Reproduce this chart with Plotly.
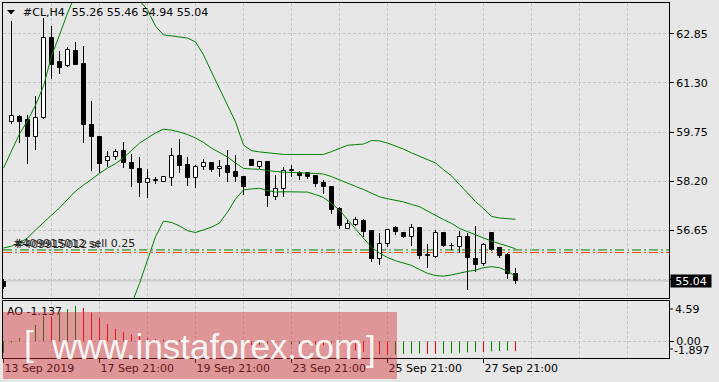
import plotly.graph_objects as go

# ---------------- data ----------------
symbol = "#CL,H4"
date_labels = ["13 Sep 2019", "17 Sep 21:00", "19 Sep 21:00", "23 Sep 21:00", "25 Sep 21:00", "27 Sep 21:00"]
date_label_bars = [0, 12, 24, 36, 48, 60]
price_ticks = [55.10, 56.65, 58.20, 59.75, 61.30, 62.85]

opens = [55.02, 60.06, 60.22, 60.12, 59.58, 60.19, 62.72, 61.96, 61.83, 62.32,
         61.90, 59.98, 59.58, 58.82, 58.95, 59.15, 58.76, 58.57, 58.15, 58.20,
         58.18, 58.28, 58.99, 58.71, 58.28, 58.63, 58.76, 58.57, 58.67, 58.49,
         58.34, 58.86, 58.65, 58.79, 57.70, 57.95, 58.52, 58.44, 58.44, 58.36,
         58.15, 58.02, 57.31, 56.69, 56.82, 56.94, 56.63, 55.72, 56.20, 56.71,
         56.55, 56.44, 56.72, 55.83, 55.81, 56.55, 56.14, 56.12, 56.42, 55.72,
         55.56, 56.55, 56.07, 55.86, 55.26]
highs = [55.10, 63.25, 60.30, 60.30, 60.88, 63.36, 63.09, 62.30, 62.43, 62.59,
         62.46, 60.72, 59.60, 59.14, 59.20, 59.42, 59.05, 58.95, 58.57, 58.34,
         58.36, 59.25, 59.53, 58.95, 58.71, 58.89, 58.81, 58.86, 59.18, 59.02,
         58.36, 58.88, 58.80, 58.80, 58.39, 58.63, 58.71, 58.52, 58.50, 58.38,
         58.23, 58.03, 57.39, 56.97, 57.06, 56.99, 56.66, 56.55, 56.68, 56.77,
         56.58, 56.84, 56.74, 56.20, 56.66, 56.56, 56.23, 56.62, 56.55, 56.78,
         56.25, 56.57, 56.12, 55.93, 55.46]
lows = [54.80, 60.00, 59.40, 58.74, 59.19, 60.15, 61.44, 61.59, 61.80, 61.86,
        59.40, 58.51, 58.45, 58.63, 58.86, 58.60, 58.02, 57.68, 57.67, 58.10,
        58.17, 58.04, 58.44, 58.04, 57.99, 58.55, 58.47, 58.34, 58.18, 58.18,
        57.76, 58.66, 58.58, 57.39, 57.60, 57.70, 58.34, 58.23, 58.27, 58.00,
        57.79, 57.16, 56.68, 56.67, 56.78, 56.42, 55.65, 55.54, 56.10, 56.50,
        56.40, 56.14, 55.72, 55.44, 55.78, 56.10, 56.02, 55.93, 54.75, 55.33,
        55.52, 55.98, 55.75, 55.10, 54.94]
closes = [54.85, 60.25, 60.08, 59.58, 60.19, 62.72, 61.88, 61.77, 62.35, 61.88,
          59.98, 59.58, 58.75, 58.96, 59.11, 58.76, 58.57, 58.15, 58.25, 58.22,
          58.32, 58.99, 58.68, 58.30, 58.63, 58.76, 58.55, 58.65, 58.46, 58.34,
          58.02, 58.68, 58.79, 57.73, 57.94, 58.53, 58.54, 58.37, 58.34, 58.10,
          58.00, 57.28, 56.79, 56.83, 56.97, 56.60, 55.72, 56.20, 56.65, 56.58,
          56.44, 56.70, 55.83, 55.86, 56.55, 56.14, 56.16, 56.42, 55.75, 55.54,
          56.18, 56.02, 55.83, 55.26, 55.04]

bb_upper = [58.61, 59.15, 59.69, 60.10, 60.60, 61.20, 62.15, 62.82, 63.51, 64.10,
            64.40, 64.60, 64.75, 64.80, 64.70, 64.50, 64.20, 63.90, 63.61, 63.10,
            62.82, 62.79, 62.76, 62.72, 62.60, 62.19, 61.65, 61.11, 60.57, 60.07,
            59.34, 59.16, 59.12, 59.09, 59.05, 59.04, 59.04, 59.04, 59.04, 59.04,
            59.04, 59.13, 59.24, 59.33, 59.35, 59.37, 59.48, 59.47, 59.40, 59.31,
            59.21, 59.09, 58.99, 58.88, 58.77, 58.56, 58.36, 58.09, 57.82, 57.55,
            57.33, 57.08, 57.03, 57.01, 56.99]
bb_middle = [56.08, 56.14, 56.24, 56.40, 56.65, 56.90, 57.12, 57.35, 57.63, 57.88,
             58.07, 58.26, 58.44, 58.61, 58.75, 58.93, 59.18, 59.40, 59.56, 59.72,
             59.84, 59.81, 59.75, 59.67, 59.56, 59.42, 59.24, 59.09, 58.96, 58.77,
             58.60, 58.58, 58.57, 58.53, 58.50, 58.48, 58.47, 58.45, 58.45, 58.44,
             58.42, 58.34, 58.23, 58.12, 58.03, 57.93, 57.82, 57.70, 57.64, 57.59,
             57.54, 57.46, 57.39, 57.25, 57.11, 56.98, 56.86, 56.70, 56.60, 56.51,
             56.40, 56.30, 56.23, 56.14, 56.06]
bb_lower = [53.55, 53.13, 52.79, 52.70, 52.70, 52.60, 52.09, 51.88, 51.75, 51.66,
            51.74, 51.92, 52.13, 52.42, 52.80, 53.36, 54.30, 54.96, 55.73, 56.44,
            56.93, 56.89, 56.78, 56.63, 56.57, 56.65, 56.74, 56.87, 57.22, 57.63,
            57.92, 57.95, 57.97, 57.90, 57.85, 57.86, 57.86, 57.86, 57.85, 57.77,
            57.68, 57.49, 57.28, 56.98, 56.68, 56.40, 56.10, 55.92, 55.78, 55.68,
            55.61, 55.53, 55.40, 55.28, 55.21, 55.19, 55.23, 55.29, 55.34, 55.38,
            55.46, 55.49, 55.46, 55.35, 55.19]

ao_values = [-1.30, -0.15, 0.37, 0.97, 1.86, 2.91, 2.80, 3.25, 3.66, 4.03,
             3.81, 3.28, 2.65, 1.98, 1.42, 1.04, 0.75, 0.56, 0.40, 0.28,
             0.20, 0.18, 0.15, 0.10, 0.05, 0.02, -0.05, -0.12, -0.20, -0.30,
             -0.42, -0.45, -0.40, -0.50, -0.48, -0.40, -0.35, -0.30, -0.28, -0.35,
             -0.45, -0.60, -0.80, -0.95, -1.05, -1.20, -1.40, -1.50, -1.55, -1.50,
             -1.45, -1.40, -1.38, -1.42, -1.44, -1.40, -1.35, -1.30, -1.25, -1.20,
             -1.22, -1.15, -1.10, -1.05, -1.137]
ao_max = 4.59
ao_min = -1.897

order_price = 56.02
sl_price = 55.94
order_label = "#409915012 sell 0.25"
sl_label = "#409915012 sl"
watermark = "www.instaforex.com"

# ---------------- geometry / style ----------------
W, H = 719, 382
ML, MR, MT, MB = 3, 50, 3, 24
PW, PH = W - ML - MR, H - MT - MB
BG = "#E7E7E7"
GRID = "#C6C6C6"
GREEN = "#008000"
RED = "#FF0000"
FONT = "DejaVu Sans"
AO_TOP_PX = 301


def PX(px):
    return (px - ML) / PW


def PY(py):
    return (H - MB - py) / PH


n = len(closes)
idx = list(range(n))
x_range = [-0.0625, -0.0625 + PW / 8.0]
price_range = [54.50, 63.83]

fig = go.Figure()

# candle wicks (thin bars so bodies can cover them)
fig.add_trace(go.Bar(x=idx, y=[h - l for h, l in zip(highs, lows)], base=lows,
                     width=0.125, marker=dict(color="black", line=dict(width=0)),
                     xaxis="x", yaxis="y", hoverinfo="skip"))
# candle bodies
bull = [i for i in idx if closes[i] >= opens[i]]
bear = [i for i in idx if closes[i] < opens[i]]
for sel, fill in ((bull, "white"), (bear, "black")):
    fig.add_trace(go.Bar(
        x=sel,
        y=[max(abs(closes[i] - opens[i]), 0.02) for i in sel],
        base=[min(closes[i], opens[i]) for i in sel],
        width=0.5,
        marker=dict(color=fill, line=dict(color="black", width=1)),
        xaxis="x", yaxis="y", hoverinfo="skip"))

# Bollinger bands
for band in (bb_upper, bb_middle, bb_lower):
    fig.add_trace(go.Scatter(x=idx, y=band, mode="lines",
                             line=dict(color=GREEN, width=1),
                             xaxis="x", yaxis="y", hoverinfo="skip"))

# Awesome oscillator histogram
ao_green_x, ao_green_y, ao_red_x, ao_red_y = [], [], [], []
for i, v in enumerate(ao_values):
    up = i == 0 or v >= ao_values[i - 1]
    tx, ty = (ao_green_x, ao_green_y) if up else (ao_red_x, ao_red_y)
    tx += [i, i, None]
    ty += [0, v, None]
fig.add_trace(go.Scatter(x=ao_green_x, y=ao_green_y, mode="lines",
                         line=dict(color=GREEN, width=1), xaxis="x2", yaxis="y2",
                         hoverinfo="skip"))
fig.add_trace(go.Scatter(x=ao_red_x, y=ao_red_y, mode="lines",
                         line=dict(color=RED, width=1), xaxis="x2", yaxis="y2",
                         hoverinfo="skip"))
# AO label (drawn as a trace so the watermark overlay tints it)
ao_h = (H - MB) - AO_TOP_PX
ao_lab_y = ao_min + (H - MB - 312) / float(ao_h) * (ao_max - ao_min)
fig.add_trace(go.Scatter(x=[x_range[0] + (7 - ML) / 8.0], y=[ao_lab_y], mode="text",
                         text=["AO %.3f" % ao_values[-1]], textposition="middle right",
                         textfont=dict(family=FONT, size=11, color="black"),
                         cliponaxis=False, xaxis="x2", yaxis="y2", hoverinfo="skip"))

shapes = []
# order lines
shapes.append(dict(type="line", xref="x domain", yref="y", x0=0, x1=1,
                   y0=order_price, y1=order_price, layer="below",
                   line=dict(color=GREEN, width=1, dash="9px,3px,2px,3px")))
shapes.append(dict(type="line", xref="x domain", yref="y", x0=0, x1=1,
                   y0=sl_price, y1=sl_price, layer="below",
                   line=dict(color="#FF4500", width=1, dash="9px,3px,2px,3px")))
# bid line
shapes.append(dict(type="line", xref="x domain", yref="y", x0=0, x1=1,
                   y0=closes[-1], y1=closes[-1], layer="below",
                   line=dict(color="#BDBDBD", width=1)))
# title triangle
shapes.append(dict(type="path", xref="paper", yref="paper",
                   path="M %f %f L %f %f L %f %f Z" % (PX(7), PY(10), PX(15), PY(10), PX(11), PY(14.5)),
                   fillcolor="black", line=dict(width=0)))
# AO side tick marks
for py in (309, 349):
    shapes.append(dict(type="line", xref="paper", yref="paper", x0=1, x1=PX(673),
                       y0=PY(py), y1=PY(py), line=dict(color="black", width=1)))
# watermark overlay
shapes.append(dict(type="rect", xref="paper", yref="paper", x0=PX(3), x1=PX(397),
                   y0=PY(379), y1=PY(312), layer="above",
                   fillcolor="rgba(210,50,55,0.45)", line=dict(width=0)))

ann = []
ann.append(dict(xref="paper", yref="paper", x=PX(21), y=PY(12.5), xanchor="left", yanchor="middle",
                showarrow=False,
                text="%s\u00a0\u00a0%.2f %.2f %.2f %.2f" % (symbol, opens[-1], highs[-1], lows[-1], closes[-1]),
                font=dict(family=FONT, size=11, color="black")))
ann.append(dict(xref="paper", yref="paper", x=PX(11), y=PY(243.5), xanchor="left", yanchor="middle",
                showarrow=False, text=order_label, font=dict(family=FONT, size=11, color="#202020")))
ann.append(dict(xref="paper", yref="paper", x=PX(13), y=PY(244.5), xanchor="left", yanchor="middle",
                showarrow=False, text=sl_label, font=dict(family=FONT, size=11, color="#303030")))
ann.append(dict(xref="paper", yref="paper", x=PX(670), y=PY(280.5), xanchor="left", yanchor="middle",
                showarrow=False, text="%.2f" % closes[-1], width=40, height=12, align="center",
                bgcolor="black", borderpad=0, font=dict(family=FONT, size=11, color="white")))
ann.append(dict(xref="paper", yref="paper", x=PX(673), y=PY(309), xanchor="left", yanchor="middle",
                showarrow=False, text="%.2f" % ao_max, font=dict(family=FONT, size=11, color="black")))
ann.append(dict(xref="paper", yref="paper", x=PX(672), y=PY(350), xanchor="left", yanchor="middle",
                showarrow=False, text="%.3f" % ao_min, font=dict(family=FONT, size=11, color="black")))
# watermark text
WM_FONT = dict(family="Liberation Sans", size=35, color="rgba(255,255,255,0.92)")
ann.append(dict(xref="paper", yref="paper", x=PX(207), y=PY(346), xanchor="center", yanchor="middle",
                showarrow=False, text=watermark, font=WM_FONT))
ann.append(dict(xref="paper", yref="paper", x=PX(29), y=PY(343), xanchor="center", yanchor="middle",
                showarrow=False, text="[", font=WM_FONT))
ann.append(dict(xref="paper", yref="paper", x=PX(371), y=PY(348), xanchor="center", yanchor="middle",
                showarrow=False, text="]", font=WM_FONT))

grid_vals = list(range(0, int(x_range[1]) + 1, 6))
main_bottom = PY(298)
ao_top = PY(AO_TOP_PX)

fig.update_layout(
    width=W, height=H,
    margin=dict(l=ML, r=MR, t=MT, b=MB, pad=0),
    paper_bgcolor=BG, plot_bgcolor=BG,
    showlegend=False, barmode="overlay", bargap=0,
    font=dict(family=FONT, size=11, color="black"),
    shapes=shapes, annotations=ann,
    xaxis=dict(domain=[0, 1], anchor="y", range=x_range, tickvals=grid_vals,
               showticklabels=False, ticks="", showgrid=True, gridcolor=GRID,
               griddash="3px,2px", gridwidth=1, showline=True, linecolor="black",
               linewidth=1, mirror=True, zeroline=False, fixedrange=True),
    yaxis=dict(domain=[main_bottom, 1], anchor="x", range=price_range, side="right",
               tickvals=price_ticks,
               ticktext=["" if k == 0 else "%.2f" % v for k, v in enumerate(price_ticks)],
               ticks="outside", ticklen=4, tickcolor="black", showgrid=True,
               gridcolor=GRID, griddash="3px,2px", showline=True, linecolor="black",
               linewidth=1, mirror=True, zeroline=False,
               tickfont=dict(family=FONT, size=11, color="black")),
    xaxis2=dict(domain=[0, 1], anchor="y2", range=x_range, matches="x",
                tickvals=date_label_bars, ticktext=date_labels, ticks="outside",
                ticklen=4, tickcolor="black", ticklabelposition="outside right",
                showgrid=True, gridcolor=GRID, griddash="3px,2px",
                minor=dict(tickvals=grid_vals, showgrid=True, gridcolor=GRID,
                           griddash="3px,2px", ticks=""),
                showline=True, linecolor="black", linewidth=1, mirror=True,
                zeroline=False, tickfont=dict(family=FONT, size=11, color="black")),
    yaxis2=dict(domain=[0, ao_top], anchor="x2", range=[ao_min, ao_max], side="right",
                tickvals=[0], ticktext=["0.00"], ticks="outside", ticklen=4,
                tickcolor="black", showgrid=True, gridcolor=GRID, griddash="3px,2px",
                showline=True, linecolor="black", linewidth=1, mirror=True,
                zeroline=False, tickfont=dict(family=FONT, size=11, color="black")),
)

fig.write_html("out.html")
